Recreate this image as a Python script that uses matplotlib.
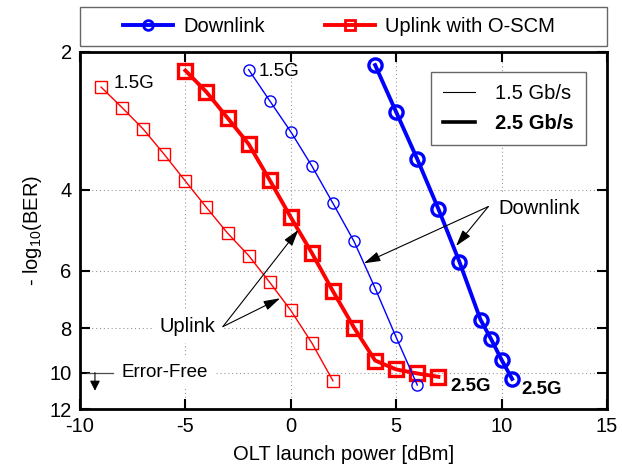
import matplotlib
matplotlib.use("Agg")
import matplotlib.pyplot as plt
from matplotlib.lines import Line2D
from matplotlib.patches import Rectangle
from matplotlib.ticker import NullLocator, FixedLocator

plt.rcParams["font.family"] = ["Liberation Sans", "DejaVu Sans"]
plt.rcParams["axes.unicode_minus"] = False

# downlink, 1.5 Gb/s and 2.5 Gb/s
dl_power_15 = [-2, -1, 0, 1, 2, 3, 4, 5, 6]
dl_ber_15 = [2.19, 2.56, 2.99, 3.55, 4.28, 5.18, 6.55, 8.38, 10.64]
dl_power_25 = [4, 5, 6, 7, 8, 9, 9.5, 10, 10.5]
dl_ber_25 = [2.14, 2.71, 3.43, 4.40, 5.74, 7.67, 8.45, 9.38, 10.32]

# uplink with O-SCM, 1.5 Gb/s and 2.5 Gb/s
ul_power_15 = [-9, -8, -7, -6, -5, -4, -3, -2, -1, 0, 1, 2]
ul_ber_15 = [2.39, 2.65, 2.95, 3.35, 3.83, 4.37, 4.97, 5.56, 6.36, 7.32, 8.62, 10.42]
ul_power_25 = [-5, -4, -3, -2, -1, 0, 1, 2, 3, 4, 5, 6, 7]
ul_ber_25 = [2.20, 2.45, 2.79, 3.18, 3.81, 4.59, 5.49, 6.65, 7.98, 9.41, 9.84, 10.04, 10.21]

x_ticks = [-10, -5, 0, 5, 10, 15]
y_ticks = [2, 4, 6, 8, 10, 12]
error_free = 10

FS = 14.5

fig = plt.figure(figsize=(6.22, 4.75), dpi=100)
ax = fig.add_axes([0.1286, 0.1389, 0.8473, 0.7526])

thin = dict(lw=1.0, ms=8, mew=1.0, mfc="none")
thick = dict(lw=2.8, ms=9.5, mew=2.4, mfc="none")
ax.plot(ul_power_15, ul_ber_15, "s-", color="red", **thin, zorder=4)
ax.plot(ul_power_25, ul_ber_25, "s-", color="red", **thick, zorder=4)
ax.plot(dl_power_15, dl_ber_15, "o-", color="blue", **thin, zorder=4)
ax.plot(dl_power_25, dl_ber_25, "o-", color="blue", **thick, zorder=4)

ax.set_yscale("log")
ax.set_xlim(x_ticks[0], x_ticks[-1])
ax.set_ylim(y_ticks[-1], y_ticks[0])
ax.yaxis.set_major_locator(FixedLocator(y_ticks))
ax.yaxis.set_minor_locator(NullLocator())
ax.set_yticklabels([str(t) for t in y_ticks])
ax.set_xticks(x_ticks)
ax.set_xticklabels([str(t) for t in x_ticks])

ax.grid(True, linestyle=(0, (1, 2.5)), color="0.6", lw=0.8, zorder=0)
ax.tick_params(direction="in", length=7, width=1.5, top=True, right=True,
               labelsize=FS, pad=6)
for s in ax.spines.values():
    s.set_linewidth(2.0)

ax.set_xlabel("OLT launch power [dBm]", fontsize=FS, labelpad=6)
ax.set_ylabel(r"- log$_{\mathregular{10}}$(BER)", fontsize=FS, labelpad=4)

# rate labels
ax.text(-8.42, 2.35, "1.5G", fontsize=FS - 1, va="center", ha="left", zorder=3)
ax.text(-1.51, 2.21, "1.5G", fontsize=FS - 1, va="center", ha="left", zorder=3)
ax.text(7.59, 10.73, "2.5G", fontsize=FS - 1, va="center", ha="left", fontweight="bold")
ax.text(10.95, 10.86, "2.5G", fontsize=FS - 1, va="center", ha="left", fontweight="bold")

arrow = dict(arrowstyle="-|>,head_length=1.0,head_width=0.3", color="black",
             lw=0.8, shrinkA=0, shrinkB=0)
short_arrow = dict(arrowstyle="-|>,head_length=0.6,head_width=0.3", color="black",
                   lw=0.8, shrinkA=0, shrinkB=0)

# uplink pointers
ax.text(-4.88, 7.94, "Uplink", fontsize=FS, ha="center", va="center",
        bbox=dict(facecolor="white", edgecolor="none", pad=5), zorder=2)
for tip in [(-0.51, 6.89), (0.36, 4.89)]:
    ax.annotate("", xy=tip, xytext=(-3.22, 7.94), arrowprops=arrow, zorder=5)

# downlink pointers
ax.text(11.77, 4.39, "Downlink", fontsize=FS, ha="center", va="center",
        bbox=dict(facecolor="white", edgecolor="none", pad=4), zorder=2)
for tip in [(3.47, 5.78), (7.84, 5.30)]:
    ax.annotate("", xy=tip, xytext=(9.37, 4.35), arrowprops=arrow, zorder=5)

# error-free marker
ax.text(-8.02, error_free, "Error-Free", fontsize=FS - 1, ha="left", va="center",
        bbox=dict(facecolor="white", edgecolor="none", pad=6), zorder=2)
ax.plot([-9.68, -8.42], [error_free, error_free], color="0.3", lw=0.9, zorder=3)
ax.annotate("", xy=(-9.29, 10.95), xytext=(-9.29, error_free),
            arrowprops=short_arrow, zorder=5)

# rate legend inside axes
rate_handles = [Line2D([], [], color="black", lw=0.8),
                Line2D([], [], color="black", lw=2.6)]
leg2 = ax.legend(rate_handles, ["1.5 Gb/s", "2.5 Gb/s"], loc="upper right",
                 bbox_to_anchor=(0.979, 0.9706), fontsize=FS, frameon=True,
                 fancybox=False, edgecolor="0.4", framealpha=1,
                 handlelength=1.6, handletextpad=1.0, labelspacing=0.55,
                 borderpad=0.6)
leg2.get_frame().set_linewidth(1.0)
leg2.get_texts()[1].set_fontweight("bold")

# link legend above the axes
link_handles = [
    Line2D([], [], color="blue", lw=2.8, marker="o", ms=7, mew=2, mfc="none"),
    Line2D([], [], color="red", lw=2.8, marker="s", ms=6.5, mew=2, mfc="none"),
]
fig.legend(link_handles, ["Downlink", "Uplink with O-SCM"], loc="center",
           bbox_to_anchor=(0.545, 0.944), ncol=2, frameon=False, fontsize=FS,
           handlelength=2.5, handletextpad=0.5, columnspacing=3.0)
fig.add_artist(Rectangle((0.1286, 0.9032), 0.8473, 0.0821, transform=fig.transFigure,
                         fill=False, edgecolor="0.4", lw=1.0))

fig.savefig("out.png", dpi=100)
